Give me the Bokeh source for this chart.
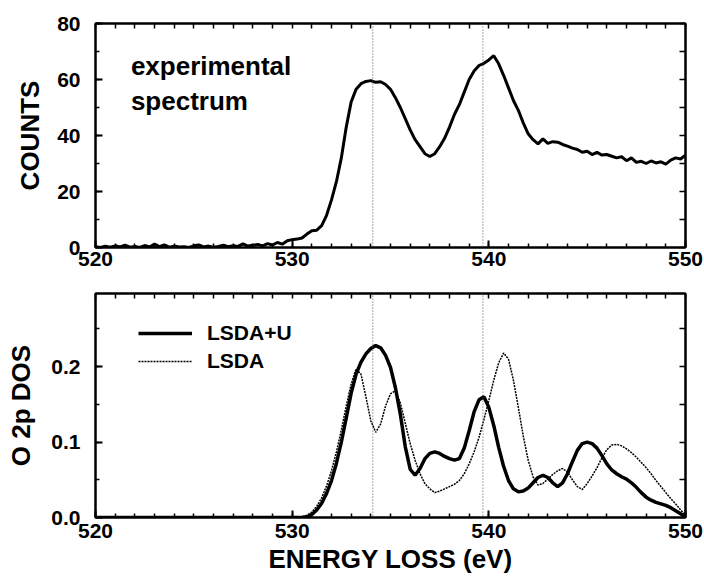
from bokeh.plotting import figure
from bokeh.models import (Range1d, LinearAxis, SingleIntervalTicker, FixedTicker, PrintfTickFormatter,
                          Label, Arrow, Legend, LegendItem)
from bokeh.layouts import column
from bokeh.embed import file_html
from bokeh.resources import INLINE

FONT = "Liberation Sans"

# ---------------- data ----------------
# experimental spectrum, 0.25 eV steps from 520 to 550 eV
energy_top = [520 + 0.25 * i for i in range(121)]
counts = [
    0.3, 0.0, 0.5, 0.1, 0.6, 0.2, 0.8, 0.1,
    0.4, 0.0, 0.7, 0.2, 1.2, 0.3, 0.9, 0.1,
    0.5, 0.2, 0.3, 0.0, 0.6, 0.9, 0.2, 0.5,
    0.1, 0.4, 0.8, 0.3, 0.6, 0.4, 1.3, 0.5,
    0.8, 1.1, 0.6, 1.4, 0.9, 1.8, 1.2, 2.4,
    2.8, 3.0, 3.4, 4.8, 6.0, 6.2, 7.8, 11.5,
    17.0, 23.5, 32.0, 43.0, 52.0, 56.5, 58.5, 59.3,
    59.6, 59.0, 59.2, 58.2, 56.5, 53.5, 50.0, 46.0,
    42.0, 38.5, 36.0, 33.5, 32.5, 33.5, 36.0, 39.0,
    43.0, 47.5, 51.0, 55.5, 60.0, 63.0, 65.0, 65.8,
    67.0, 68.5, 65.6, 61.5, 57.0, 52.5, 49.0, 44.5,
    40.6, 38.5, 37.0, 38.8, 37.2, 37.8, 37.6, 36.8,
    36.2, 35.5, 35.0, 34.0, 34.4, 33.2, 34.0, 33.0,
    33.2, 32.6, 32.0, 32.4, 31.0, 32.0, 30.4, 30.8,
    30.0, 30.9, 30.2, 30.6, 29.8, 31.2, 32.0, 31.6,
    33.0,
]

# calculated O 2p DOS: 520 eV, then 0.25 eV steps from 530 to 550 eV
energy_dos = [520.0] + [530 + 0.25 * i for i in range(81)]
dos_lsda_u = [
    0.0,
    0.000, 0.000, 0.000, 0.001, 0.004, 0.010, 0.019, 0.032,
    0.049, 0.072, 0.100, 0.132, 0.165, 0.190, 0.206, 0.217,
    0.224, 0.228, 0.225, 0.215, 0.199, 0.172, 0.137, 0.094,
    0.064, 0.056, 0.065, 0.078, 0.085, 0.087, 0.085, 0.081,
    0.078, 0.076, 0.078, 0.092, 0.115, 0.140, 0.156, 0.160,
    0.146, 0.122, 0.093, 0.068, 0.049, 0.038, 0.034, 0.035,
    0.039, 0.046, 0.053, 0.056, 0.053, 0.046, 0.041, 0.046,
    0.058, 0.074, 0.089, 0.098, 0.100, 0.098, 0.092, 0.082,
    0.071, 0.063, 0.058, 0.054, 0.051, 0.046, 0.040, 0.033,
    0.027, 0.023, 0.020, 0.018, 0.016, 0.013, 0.009, 0.005,
    0.001,
]
dos_lsda = [
    0.0,
    0.000, 0.000, 0.001, 0.003, 0.007, 0.015, 0.026, 0.042,
    0.062, 0.087, 0.116, 0.148, 0.177, 0.197, 0.190, 0.160,
    0.128, 0.113, 0.124, 0.148, 0.164, 0.168, 0.152, 0.125,
    0.098, 0.076, 0.058, 0.045, 0.038, 0.033, 0.035, 0.038,
    0.041, 0.044, 0.049, 0.058, 0.071, 0.087, 0.106, 0.130,
    0.155, 0.182, 0.205, 0.218, 0.210, 0.182, 0.146, 0.108,
    0.076, 0.054, 0.043, 0.045, 0.051, 0.057, 0.062, 0.065,
    0.060, 0.050, 0.041, 0.037, 0.045, 0.055, 0.066, 0.079,
    0.090, 0.096, 0.097, 0.095, 0.091, 0.086, 0.080, 0.073,
    0.066, 0.058, 0.049, 0.041, 0.033, 0.025, 0.018, 0.010,
    0.003,
]

marker_energies = [534.1, 539.7]
# tick positions for the unlabeled mirror axes (top and right)
x_mirror_ticks = [520 + i for i in range(31)]
y_mirror_ticks_top = [0, 10, 20, 30, 40, 50, 60, 70, 80]
y_mirror_ticks_bottom = [0.0, 0.05, 0.1, 0.15, 0.2, 0.25]


def style_axis(ax):
    ax.axis_line_width = 2
    ax.axis_line_color = "black"
    ax.major_tick_line_width = 2
    ax.minor_tick_line_width = 1.5
    ax.major_tick_line_color = "black"
    ax.minor_tick_line_color = "black"
    ax.major_tick_in = 7
    ax.major_tick_out = 0
    ax.minor_tick_in = 4
    ax.minor_tick_out = 0
    ax.major_label_text_font = FONT
    ax.major_label_text_font_style = "bold"
    ax.major_label_text_color = "black"
    ax.major_label_text_font_size = "21px"
    ax.axis_label_text_font = FONT
    ax.axis_label_text_font_style = "bold"
    ax.axis_label_text_color = "black"
    ax.axis_label_text_font_size = "26px"


def make_fig(height, top, bottom, yr, yticker, y_mirror, xstand, yfmt=None):
    p = figure(width=704, height=height, output_backend="svg", toolbar_location=None,
               x_range=Range1d(520, 550), y_range=yr,
               min_border_left=95, min_border_right=19,
               min_border_top=top, min_border_bottom=bottom)
    p.xgrid.visible = False
    p.ygrid.visible = False
    p.outline_line_color = "black"
    p.outline_line_width = 2
    p.background_fill_color = "white"
    p.border_fill_color = "white"
    xax = p.xaxis[0]
    yax = p.yaxis[0]
    xax.ticker = SingleIntervalTicker(interval=10, num_minor_ticks=10)
    yax.ticker = yticker
    if yfmt is not None:
        yax.formatter = yfmt
    style_axis(xax)
    style_axis(yax)
    xax.major_label_standoff = xstand
    yax.major_label_standoff = 15
    # mirror ticks, no labels
    ax_top = LinearAxis(ticker=FixedTicker(ticks=[], minor_ticks=x_mirror_ticks))
    style_axis(ax_top)
    ax_top.minor_tick_in = 5
    p.add_layout(ax_top, "above")
    ax_r = LinearAxis(ticker=FixedTicker(ticks=[], minor_ticks=y_mirror))
    style_axis(ax_r)
    ax_r.minor_tick_in = 6
    p.add_layout(ax_r, "right")
    return p, xax, yax


# ---------------- top panel ----------------
p1, x1, y1 = make_fig(280, 23, 33, Range1d(0, 80),
                      SingleIntervalTicker(interval=20, num_minor_ticks=2), y_mirror_ticks_top, 4)
y1.axis_label = "COUNTS"
y1.axis_label_standoff = 9
p1.line(energy_top, counts, line_color="black", line_width=3)
for e in marker_energies:
    p1.add_layout(Arrow(end=None, x_start=e, y_start=80, x_end=e, y_end=-13,
                        line_color="#555555", line_width=1, line_dash="1 2"))
p1.add_layout(Label(x=521.8, y=65, text="experimental", text_font=FONT, text_font_style="bold",
                    text_font_size="26px", text_color="black", text_baseline="alphabetic"))
p1.add_layout(Label(x=521.8, y=52.5, text="spectrum", text_font=FONT, text_font_style="bold",
                    text_font_size="26px", text_color="black", text_baseline="alphabetic"))

# ---------------- bottom panel ----------------
p2, x2, y2 = make_fig(296, 13, 59, Range1d(0, 0.297),
                      SingleIntervalTicker(interval=0.1, num_minor_ticks=2), y_mirror_ticks_bottom, 6,
                      PrintfTickFormatter(format="%.1f"))
y2.axis_label = "O 2p DOS"
y2.axis_label_standoff = 12
x2.axis_label = "ENERGY LOSS (eV)"
x2.axis_label_standoff = 3
for e in marker_energies:
    p2.add_layout(Arrow(end=None, x_start=e, y_start=0.33, x_end=e, y_end=0,
                        line_color="#555555", line_width=1, line_dash="1 2"))
r_u = p2.line(energy_dos, dos_lsda_u, line_color="black", line_width=3.5)
r_l = p2.line(energy_dos, dos_lsda, line_color="black", line_width=1.5, line_dash="2 1")

leg = Legend(items=[LegendItem(label="LSDA+U", renderers=[r_u]),
                    LegendItem(label="LSDA", renderers=[r_l])],
             location=(43, 144), orientation="vertical",
             glyph_width=54, glyph_height=24, spacing=4, padding=0, margin=0,
             label_standoff=15, label_text_font=FONT, label_text_font_style="bold",
             label_text_font_size="21px", label_text_color="black",
             border_line_color=None, background_fill_alpha=0)
p2.add_layout(leg)

layout = column(p1, p2, spacing=0)
open("out.html", "w").write(file_html(layout, INLINE))
